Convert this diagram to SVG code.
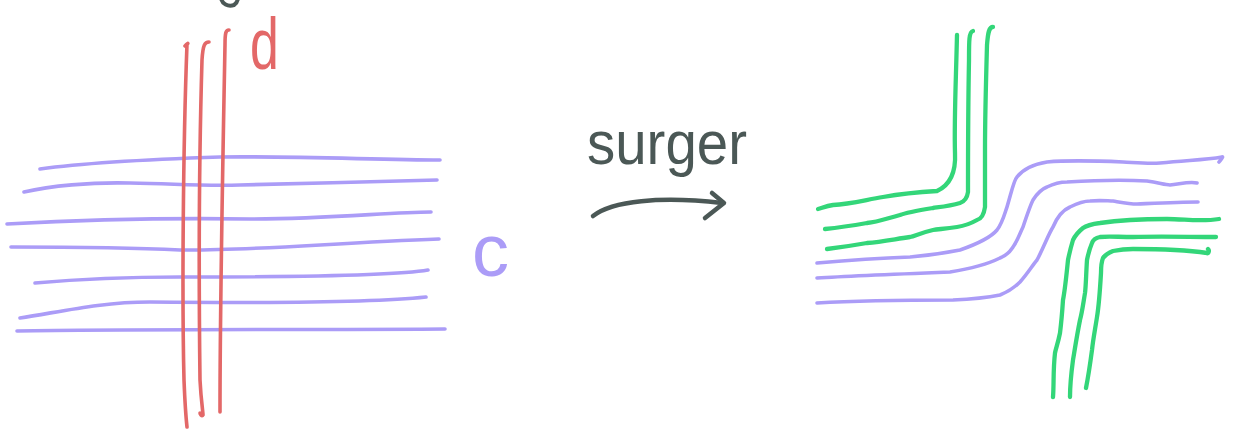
<svg xmlns="http://www.w3.org/2000/svg" width="1236" height="429" viewBox="0 0 1236 429">
<style>
.red{fill:none;stroke:#e36868;stroke-width:3.6;stroke-linecap:round;stroke-linejoin:round}
.pur{fill:none;stroke:#ab9cf7;stroke-width:3.6;stroke-linecap:round;stroke-linejoin:round}
.grn{fill:none;stroke:#33d679;stroke-width:4.3;stroke-linecap:round;stroke-linejoin:round}
.ink{fill:none;stroke:#4b5856;stroke-width:4.5;stroke-linecap:round;stroke-linejoin:round}
.lbl{font-family:"Liberation Sans","DejaVu Sans",sans-serif}
</style>
<rect width="1236" height="429" fill="#ffffff"/>
<g id="fragment"><path class="ink" d="M221,-2 C222,4 228,7 234,5 C237,3 238,0 238,-3" style="stroke-width:4"/></g>
<g id="curves-c">
<path class="pur" d="M40,169 C90,162 160,159 220,157 C300,156 380,160 440,160"/>
<path class="pur" d="M24,192 C50,186 90,182 130,183 C180,184 200,186 240,185 C300,184 380,181 437,180"/>
<path class="pur" d="M7,224 C80,220 180,218 250,219 C330,219 390,212 431,212"/>
<path class="pur" d="M11,247 C80,247 140,248 180,250 C250,251 330,243 439,239"/>
<path class="pur" d="M35,283 C80,279 120,277 180,277 C300,277 400,275 428,270"/>
<path class="pur" d="M20,318 C60,312 100,302 150,302 C250,303 370,303 426,297"/>
<path class="pur" d="M17,331 C120,329 300,330 445,329"/>
</g>
<g id="curves-d">
<path class="red" d="M185,46 C187,43 189,43 187,44 C183,150 182,300 184,380 C185,405 186,418 187,427"/>
<path class="red" d="M209,42 C205,42 203,44 202,60 C199,160 199,300 200,380 C201,400 203,412 203,415 C202,417 200,414 200,413"/>
<path class="red" d="M229,30 C226,30 225,32 225,45 C223,150 220,300 220,412"/>
</g>
<g id="label-d"><text class="lbl" x="250" y="69" font-size="72" fill="#e36868" transform="translate(250 0) scale(0.72 1) translate(-250 0)">d</text></g>
<g id="label-c"><text class="lbl" x="472" y="276" font-size="74" fill="#ab9cf7">c</text></g>
<g id="label-surger"><text class="lbl" x="587" y="164" font-size="62" fill="#4b5856" textLength="160" lengthAdjust="spacingAndGlyphs">surger</text></g>
<g id="connectors">
<path class="ink" d="M593,216 C612,201 660,196 722,203"/>
<path class="ink" d="M712,193 L724,203 L705,218"/>
</g>
<g id="result">
<path class="grn" d="M957,35 C956,80 954,120 955,153 C956,172 950,185 937,191 C920,192 900,194 883,197 C865,200 850,204 833,205 C826,206 822,208 818,209"/>
<path class="grn" d="M973,31 C969,32 969,40 969,60 C968,110 968,160 968,192 C967,199 963,202 960,203 C950,206 940,207 933,208 C915,211 905,213 900,215 C885,219 878,222 867,223 C850,226 835,228 825,229"/>
<path class="grn" d="M993,27 C989,27 988,32 987,45 C986,80 985,120 985,150 C985,180 985,200 985,207 C984,214 981,219 977,220 C970,224 963,226 957,227 C945,229 938,229 933,230 C920,233 915,236 910,237 C890,240 880,242 867,243 C850,246 835,248 827,249"/>
<path class="pur" d="M817,263 C850,260 880,258 910,257 C935,255 950,252 960,250 C980,243 992,236 997,230 C1003,222 1005,212 1007,207 C1012,190 1014,180 1017,177 C1024,168 1035,164 1047,162 C1070,160 1100,161 1123,162 C1140,163 1150,164 1160,163 C1190,160 1205,160 1222,157 C1224,156 1220,161 1219,162"/>
<path class="pur" d="M817,278 C850,276 900,274 950,272 C975,268 990,263 1000,258 C1008,255 1011,250 1013,247 C1018,240 1020,233 1023,227 C1027,215 1030,206 1033,200 C1038,192 1042,189 1047,187 C1055,183 1060,182 1067,182 C1100,180 1130,180 1147,181 C1160,183 1165,185 1170,185 C1180,184 1190,181 1197,183"/>
<path class="pur" d="M817,303 C850,301 900,300 953,300 C975,299 990,297 1000,295 C1010,291 1015,287 1020,282 C1028,273 1032,266 1037,260 C1044,247 1048,235 1053,227 C1058,215 1063,210 1070,207 C1078,203 1083,201 1090,201 C1100,200 1108,201 1113,201 C1125,203 1130,204 1137,204 C1160,203 1180,202 1198,202"/>
<path class="grn" d="M1219,219 C1200,222 1185,219 1167,219 C1140,219 1120,220 1100,223 C1092,224 1087,225 1083,228 C1078,232 1075,236 1073,240 C1070,250 1069,255 1068,260 C1066,280 1065,290 1063,300 C1062,315 1061,325 1060,333 C1058,343 1056,348 1055,353 C1053,370 1054,385 1053,397"/>
<path class="grn" d="M1216,237 C1190,237 1160,236 1133,237 C1118,237 1108,236 1100,237 C1095,238 1093,240 1092,243 C1089,250 1088,255 1087,260 C1086,275 1086,285 1085,293 C1083,305 1082,313 1080,320 C1077,335 1075,348 1073,360 C1071,375 1070,385 1070,397"/>
<path class="grn" d="M1208,249 C1210,251 1208,254 1207,253 C1180,249 1150,249 1133,249 C1123,249 1118,250 1113,251 C1108,253 1105,255 1103,258 C1101,263 1101,268 1101,273 C1100,290 1099,305 1097,317 C1095,330 1093,340 1092,350 C1090,365 1088,378 1086,388"/>
</g>
</svg>
